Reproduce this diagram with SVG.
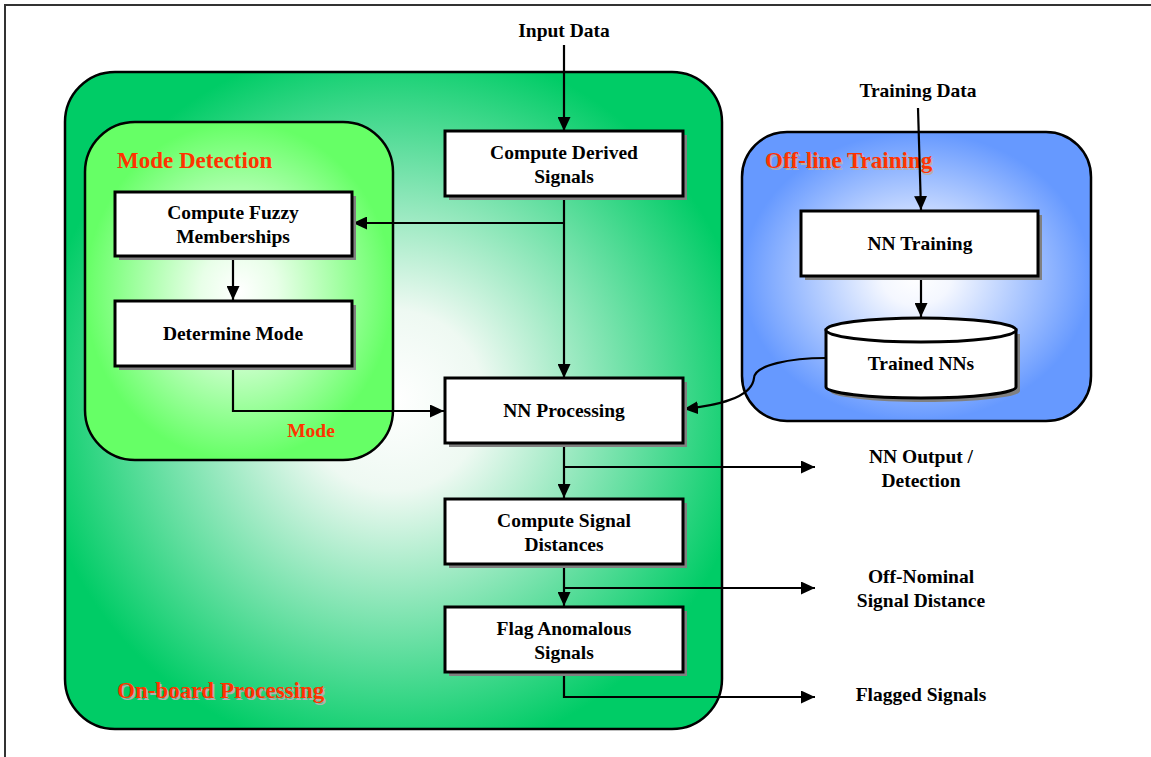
<svg xmlns="http://www.w3.org/2000/svg" width="1151" height="757" viewBox="0 0 1151 757">
<defs>
<radialGradient id="gOn" cx="50%" cy="50%" r="55%">
<stop offset="0" stop-color="#ffffff"/>
<stop offset="0.25" stop-color="#eef9f2"/>
<stop offset="1" stop-color="#00cc66"/>
</radialGradient>
<radialGradient id="gMode" cx="50%" cy="50%" r="50%">
<stop offset="0" stop-color="#ffffff"/>
<stop offset="0.25" stop-color="#e8ffe8"/>
<stop offset="1" stop-color="#66ff66"/>
</radialGradient>
<radialGradient id="gOff" cx="50%" cy="50%" r="50%">
<stop offset="0" stop-color="#ffffff"/>
<stop offset="0.2" stop-color="#f4f7ff"/>
<stop offset="1" stop-color="#6699ff"/>
</radialGradient>
<marker id="arr" viewBox="0 0 14 13" refX="14" refY="6.5" markerWidth="14" markerHeight="13" markerUnits="userSpaceOnUse" orient="auto">
<path d="M0,0 L14,6.5 L0,13 Z" fill="#000"/>
</marker>
</defs>
<style>
.frame{fill:none;stroke:#333;stroke-width:2}
.cont{stroke:#000;stroke-width:2.5}
.box{fill:#fff;stroke:#000;stroke-width:3}
.shadow{fill:#808080}
.t{font-family:"Liberation Serif","Times New Roman",serif;font-weight:bold;font-size:19.5px;fill:#000;text-anchor:middle}
.title{font-family:"Liberation Serif","Times New Roman",serif;font-weight:bold;font-size:23px;fill:#ff3300}
.tsh{font-family:"Liberation Serif","Times New Roman",serif;font-weight:bold;font-size:23px;fill:#b0b0b0}
.mode{font-family:"Liberation Serif","Times New Roman",serif;font-weight:bold;font-size:19.5px;fill:#ff3300;text-anchor:middle}
.c{fill:none;stroke:#000;stroke-width:2.2;marker-end:url(#arr)}
</style>
<rect width="1151" height="757" fill="#fff"/>
<path class="frame" d="M5,757 L5,5 L1151,5"/>

<g id="onboard">
<rect class="cont" x="65" y="72" width="657" height="657" rx="50" fill="url(#gOn)"/>
<text class="tsh" x="118.5" y="699.5">On-board Processing</text>
<text class="title" x="117" y="698">On-board Processing</text>
</g>
<g id="modedetection">
<rect class="cont" x="85" y="122" width="308" height="338" rx="50" fill="url(#gMode)"/>
<text class="title" x="117" y="168">Mode Detection</text>
<text class="mode" x="311" y="437">Mode</text>
</g>
<g id="offline">
<rect class="cont" x="742" y="132" width="349" height="289" rx="45" fill="url(#gOff)"/>
<text class="tsh" x="766.5" y="169.5">Off-line Training</text>
<text class="title" x="765" y="168">Off-line Training</text>
</g>

<g id="connectors">
<path class="c" d="M564,45 L564,131"/>
<path class="c" d="M564,196 L564,378"/>
<path class="c" d="M564,223 L353,223"/>
<path class="c" d="M233,256 L233,300"/>
<path class="c" d="M233,366 L233,411 L444,411"/>
<path class="c" d="M826,358 C790,358 755,365 754,378 C752,398 715,406 684,409"/>
<path class="c" d="M564,443 L564,498"/>
<path class="c" d="M564,467 L815,467"/>
<path class="c" d="M564,564 L564,606"/>
<path class="c" d="M564,588 L815,588"/>
<path class="c" d="M564,672 L564,697 L815,697"/>
<path class="c" d="M918,108 L921,210"/>
<path class="c" d="M921,276 L921,317"/>
</g>

<g id="input-data"><text class="t" x="564" y="37">Input Data</text></g>
<g id="training-data"><text class="t" x="918" y="97">Training Data</text></g>

<g id="compute-derived">
<rect class="shadow" x="449" y="135" width="238" height="65"/>
<rect class="box" x="445" y="131" width="238" height="65"/>
<text class="t" x="564" y="159">Compute Derived</text>
<text class="t" x="564" y="183">Signals</text>
</g>
<g id="compute-fuzzy">
<rect class="shadow" x="119" y="196" width="237" height="64"/>
<rect class="box" x="115" y="192" width="237" height="64"/>
<text class="t" x="233" y="219">Compute Fuzzy</text>
<text class="t" x="233" y="243">Memberships</text>
</g>
<g id="determine-mode">
<rect class="shadow" x="119" y="305" width="237" height="65"/>
<rect class="box" x="115" y="301" width="237" height="65"/>
<text class="t" x="233" y="340">Determine Mode</text>
</g>
<g id="nn-processing">
<rect class="shadow" x="449" y="382" width="238" height="65"/>
<rect class="box" x="445" y="378" width="238" height="65"/>
<text class="t" x="564" y="417">NN Processing</text>
</g>
<g id="compute-distances">
<rect class="shadow" x="449" y="503" width="238" height="65"/>
<rect class="box" x="445" y="499" width="238" height="65"/>
<text class="t" x="564" y="527">Compute Signal</text>
<text class="t" x="564" y="551">Distances</text>
</g>
<g id="flag-anomalous">
<rect class="shadow" x="449" y="611" width="238" height="65"/>
<rect class="box" x="445" y="607" width="238" height="65"/>
<text class="t" x="564" y="635">Flag Anomalous</text>
<text class="t" x="564" y="659">Signals</text>
</g>
<g id="nn-training">
<rect class="shadow" x="805" y="215" width="237" height="65"/>
<rect class="box" x="801" y="211" width="237" height="65"/>
<text class="t" x="920" y="250">NN Training</text>
</g>
<g id="trained-nns">
<path class="shadow" d="M830,334 L1020,334 L1020,391 A95,11 0 0 1 830,391 Z"/>
<path d="M826,330 L1016,330 L1016,387 A95,11 0 0 1 826,387 Z" fill="#fff" stroke="#000" stroke-width="3"/>
<ellipse cx="921" cy="330" rx="95" ry="12" fill="#fff" stroke="#000" stroke-width="3"/>
<text class="t" x="921" y="370">Trained NNs</text>
</g>

<g id="outputs">
<text class="t" x="921" y="463">NN Output /</text>
<text class="t" x="921" y="487">Detection</text>
<text class="t" x="921" y="583">Off-Nominal</text>
<text class="t" x="921" y="607">Signal Distance</text>
<text class="t" x="921" y="701">Flagged Signals</text>
</g>
</svg>
